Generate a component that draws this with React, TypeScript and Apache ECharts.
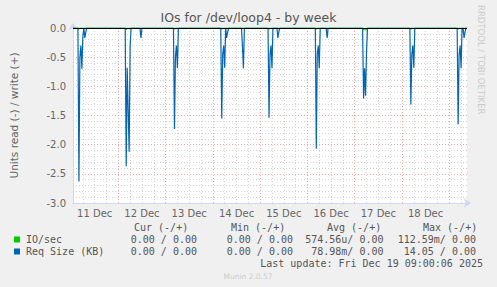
import React, { useEffect, useRef } from "react";
import * as echarts from "echarts";

// 401 half-hour slots from Dec 11 01:00 to Dec 19 09:00
const slotCount = 401;
const dayLabels = ["11 Dec", "12 Dec", "13 Dec", "14 Dec", "15 Dec", "16 Dec", "17 Dec", "18 Dec"];
const yTicks = [-3, -2.5, -2, -1.5, -1, -0.5, 0];

// Req Size (KB), read (negative) : [slot, value]
const reqSizeRead: [number, number][] = [
  [6, -2.63], [7, -0.5], [8, -0.3], [9, -0.7], [10, -0.15], [12, -0.17], [13, -0.07],
  [54, -2.37], [55, -0.68], [56, -1.4], [57, -2.12], [58, -0.3],
  [69, -0.17],
  [103, -1.73], [104, -0.5], [105, -0.3], [106, -0.69],
  [151, -1.55], [152, -0.45], [153, -0.3], [154, -0.68], [156, -0.17], [157, -0.07],
  [172, -0.3], [173, -0.69],
  [199, -1.54], [200, -0.45], [201, -0.3], [202, -0.69], [208, -0.17], [209, -0.06],
  [247, -2.07], [248, -0.45], [249, -0.3], [250, -0.69], [258, -0.17],
  [295, -1.21], [296, -0.69], [297, -1.16], [298, -0.4],
  [343, -1.31], [344, -0.45], [345, -0.3], [346, -0.68],
  [391, -1.65], [392, -0.45], [393, -0.3], [394, -0.69], [397, -0.17], [398, -0.07],
];

// IO/sec, read (negative)
const ioSecRead: [number, number][] = [
  [6, -0.02], [54, -0.03], [58, -0.02], [103, -0.02], [151, -0.02], [199, -0.02],
  [247, -0.02], [295, -0.03], [296, -0.03], [297, -0.03], [298, -0.03], [343, -0.02], [391, -0.02],
];

const legendNames = ["IO/sec", "Req Size (KB)"];
const legendColors = ["#00cc00", "#0066b3"];
const curVals = ["0.00 / 0.00", "0.00 / 0.00"];
const minVals = ["0.00 / 0.00", "0.00 / 0.00"];
const avgVals = ["574.56u/ 0.00", "78.98m/ 0.00"];
const maxVals = ["112.59m/ 0.00", "14.05 / 0.00"];
const headers = ["Cur (-/+)", "Min (-/+)", "Avg (-/+)", "Max (-/+)"];

function expand(points: [number, number][]): number[] {
  const arr = new Array(slotCount).fill(0);
  points.forEach(([i, v]) => (arr[i] = v));
  return arr;
}

export default function App() {
  const ref = useRef<HTMLDivElement>(null);
  useEffect(() => {
    if (!ref.current) return;
    const chart = echarts.init(ref.current, null, { renderer: "svg" });
    const cats = Array.from({ length: slotCount }, (_, i) => String(i));
    const mono = "DejaVu Sans Mono";
    const fontColor = "#666666";
    const headerX = [134, 231, 327, 423];
    const colRight = [197, 293, 383.5, 476];
    const rowsY = [239.5, 251.5];
    const graphics: any[] = [
      {
        type: "text",
        left: "center",
        top: 11,
        style: { text: "IOs for /dev/loop4 - by week", font: "12.5px 'DejaVu Sans'", fill: "#555" },
      },
      {
        type: "text",
        x: 485,
        y: 5,
        rotation: -Math.PI / 2,
        style: { text: "RRDTOOL / TOBI OETIKER", font: "8.5px 'DejaVu Sans'", fill: "#cccccc", textVerticalAlign: "top" },
      },
    ];
    headers.forEach((h, k) =>
      graphics.push({
        type: "text",
        x: headerX[k],
        y: 227,
        style: { text: h, font: `10px '${mono}'`, fill: "#555", textVerticalAlign: "middle" },
      })
    );
    legendNames.forEach((n, r) => {
      graphics.push({ type: "rect", shape: { x: 14, y: rowsY[r] - 3, width: 6, height: 6 }, style: { fill: legendColors[r] } });
      graphics.push({
        type: "text",
        x: 26,
        y: rowsY[r],
        style: { text: n, font: `10px '${mono}'`, fill: "#555", textVerticalAlign: "middle" },
      });
      [curVals, minVals, avgVals, maxVals].forEach((col, k) =>
        graphics.push({
          type: "text",
          x: colRight[k],
          y: rowsY[r],
          style: { text: col[r], font: `10px '${mono}'`, fill: "#555", textAlign: "right", textVerticalAlign: "middle" },
        })
      );
    });
    graphics.push({
      type: "text",
      x: 483,
      y: 263.5,
      style: { text: "Last update: Fri Dec 19 09:00:06 2025", font: `10px '${mono}'`, fill: "#555", textAlign: "right", textVerticalAlign: "middle" },
    });
    graphics.push({
      type: "text",
      x: 248,
      y: 276,
      style: { text: "Munin 2.0.57", font: "7.5px 'DejaVu Sans'", fill: "#cccccc", textAlign: "center", textVerticalAlign: "middle" },
    });

    chart.setOption({
      animation: false,
      backgroundColor: "#f0f0f0",
      grid: { left: 67, top: 28, width: 400, height: 175, show: true, backgroundColor: "#ffffff", borderWidth: 0 },
      xAxis: [
        {
          type: "category",
          data: cats,
          boundaryGap: false,
          axisLine: {
            onZero: false,
            lineStyle: { color: "#cfd6f8", width: 1 },
            symbol: ["none", "arrow"],
            symbolSize: [7, 7],
            symbolOffset: [0, 4],
          },
          axisTick: { show: false },
          axisLabel: {
            interval: (i: number) => i % 48 === 22,
            formatter: (v: string) => dayLabels[Math.floor((Number(v) - 22) / 48)] ?? "",
            color: fontColor,
            fontFamily: "DejaVu Sans",
            fontSize: 10,
            margin: 5,
          },
          splitLine: {
            show: true,
            interval: (i: number) => (i + 2) % 12 === 0 && i % 48 !== 46,
            lineStyle: { color: "#d4d4d4", type: [1, 2], width: 1 },
          },
        },
        {
          type: "category",
          data: cats,
          boundaryGap: false,
          position: "bottom",
          axisLine: { show: false },
          axisTick: { show: false },
          axisLabel: { show: false },
          splitLine: {
            show: true,
            interval: (i: number) => i % 48 === 46,
            lineStyle: { color: "#eaa8a8", type: [1, 2], width: 1 },
          },
        },
      ],
      yAxis: {
        type: "value",
        min: yTicks[0],
        max: yTicks[yTicks.length - 1],
        interval: 0.5,
        name: "Units read (-) / write (+)",
        nameLocation: "middle",
        nameGap: 54,
        nameRotate: 90,
        nameTextStyle: { color: fontColor, fontFamily: "DejaVu Sans", fontSize: 10.5 },
        axisLine: {
          show: true,
          lineStyle: { color: "#cfd6f8", width: 1 },
          symbol: ["none", "arrow"],
          symbolSize: [7, 7],
          symbolOffset: [0, 5],
        },
        axisTick: { show: false },
        axisLabel: {
          color: fontColor,
          fontFamily: "DejaVu Sans",
          fontSize: 10,
          margin: 7,
          formatter: (v: number) => v.toFixed(1),
        },
        splitLine: { show: true, lineStyle: { color: "#eaa8a8", type: [1, 2], width: 1 } },
        minorTick: { show: false, splitNumber: 5 },
        minorSplitLine: { show: true, lineStyle: { color: "#d4d4d4", type: [1, 2], width: 1 } },
      },
      graphic: graphics,
      series: [
        {
          name: "Req Size (KB)",
          type: "line",
          data: expand(reqSizeRead),
          symbol: "none",
          lineStyle: { color: "#0066b3", width: 1.2 },
          z: 3,
        },
        {
          name: "IO/sec",
          type: "line",
          data: expand(ioSecRead),
          symbol: "none",
          lineStyle: { color: "#00cc00", width: 1.2 },
          z: 4,
          markLine: {
            silent: true,
            symbol: "none",
            label: { show: false },
            lineStyle: { color: "#000000", type: "solid", width: 1 },
            data: [{ yAxis: 0 }],
            z: 6,
          },
        },
      ],
    });
    return () => chart.dispose();
  }, []);
  return <div ref={ref} style={{ position: "absolute", left: 0, top: 0, width: 497, height: 287 }} />;
}
